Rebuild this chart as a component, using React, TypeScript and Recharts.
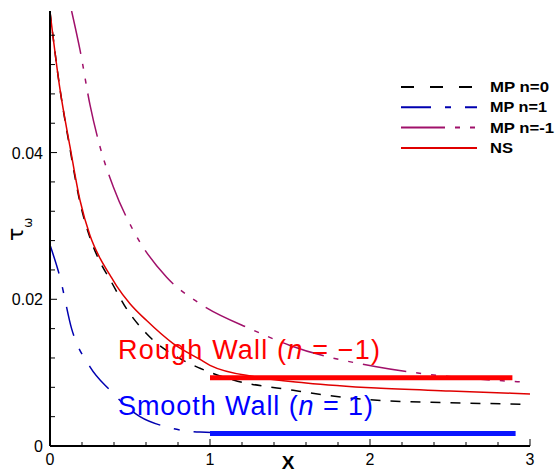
import { Legend, Line, LineChart, ReferenceDot, XAxis, YAxis } from "recharts";

// NS (red solid)
const nsX = [0, 0.06, 0.125, 0.1875, 0.25, 0.3125, 0.375, 0.417, 0.5, 0.604, 0.77, 0.9375, 1.0, 1.29, 1.6, 2.04, 2.5, 3.0];
const nsY = [0.0592, 0.049, 0.0408, 0.0335, 0.0287, 0.0256, 0.0233, 0.0218, 0.0194, 0.0171, 0.01396, 0.0118, 0.011, 0.0094, 0.0086, 0.0079, 0.0075, 0.0071];

// MP n=0 (black dashed)
const mp0X = [0, 0.06, 0.125, 0.1875, 0.25, 0.3125, 0.375, 0.479, 0.604, 0.8125, 0.9375, 1.146, 1.52, 1.89, 2.08, 2.5, 2.96];
const mp0Y = [0.0592, 0.049, 0.0405, 0.0332, 0.0284, 0.0251, 0.0227, 0.0187, 0.0153, 0.0119, 0.0106, 0.009, 0.0076, 0.0065, 0.0062, 0.0059, 0.0057];

// MP n=1 (blue dash-dot)
const mp1X = [0, 0.0625, 0.135, 0.25, 0.375, 0.5625, 0.729, 0.9375, 1.5, 2.0, 2.9];
const mp1Y = [0.0274, 0.023, 0.016, 0.0108, 0.0076, 0.004, 0.0026, 0.0019, 0.0016, 0.0016, 0.0016];

// MP n=-1 (purple dash-dot-dot)
const mpm1X = [0.135, 0.1875, 0.25, 0.3125, 0.396, 0.52, 0.729, 0.9375, 1.27, 1.5, 2.04, 2.35, 2.98];
const mpm1Y = [0.0593, 0.054, 0.0465, 0.0408, 0.0353, 0.0294, 0.023, 0.0194, 0.0158, 0.0137, 0.0108, 0.0098, 0.0087];

// thick wall reference bars
const roughX = [1.0, 2.89];
const roughY = [0.0093, 0.0093];
const smoothX = [1.0, 2.91];
const smoothY = [0.0017, 0.0017];

const xTicks = [0, 0.2, 0.4, 0.6, 0.8, 1, 1.2, 1.4, 1.6, 1.8, 2, 2.2, 2.4, 2.6, 2.8, 3];
const yTicks = [0, 0.004, 0.008, 0.012, 0.016, 0.02, 0.024, 0.028, 0.032, 0.036, 0.04, 0.044, 0.048, 0.052, 0.056];
const xMajor = [0, 1, 2, 3];
const yMajor = [0, 0.02, 0.04];

const zip = (xs: number[], ys: number[]) => xs.map((x, i) => ({ x, y: ys[i] }));

const legendItems = [
  { label: "MP n=0", color: "#000000", dash: "13 16", len: 59 },
  { label: "MP n=1", color: "#0000b0", dash: "30 14 6 14", len: 57 },
  { label: "MP n=-1", color: "#a0106a", dash: "44 10 5 10 5 10", len: 64 },
  { label: "NS", color: "#e00000", dash: "", len: 23 },
];

const isMajor = (v: number, list: number[]) => list.some((m) => Math.abs(m - v) < 1e-9);

function XTick(props: any) {
  const { x, y, payload } = props;
  const major = isMajor(payload.value, xMajor);
  return (
    <g>
      <line x1={x} y1={y} x2={x} y2={y - (major ? 7 : 4)} stroke="#000" strokeWidth={1} />
      {major && (
        <text x={x} y={y + 19} textAnchor="middle" fontSize={16} fontFamily="Liberation Sans, Arial" fill="#000">
          {payload.value}
        </text>
      )}
    </g>
  );
}

function YTick(props: any) {
  const { x, y, payload } = props;
  const major = isMajor(payload.value, yMajor);
  return (
    <g>
      <line x1={x} y1={y} x2={x + (major ? 7 : 5)} y2={y} stroke="#000" strokeWidth={1} />
      {major && (
        <text x={x - 7} y={y + 6} textAnchor="end" fontSize={16} fontFamily="Liberation Sans, Arial" fill="#000">
          {payload.value}
        </text>
      )}
    </g>
  );
}

function TauLabel() {
  return (
    <text
      x={23}
      y={241}
      transform="rotate(-90 23 241)"
      fontSize={22}
      fontFamily="DejaVu Sans"
      fill="#000"
    >
      τ
      <tspan dy={9} fontSize={12}>
        ω
      </tspan>
    </text>
  );
}

function XLabel(props: any) {
  const { viewBox } = props;
  return (
    <text
      x={viewBox.x + viewBox.width / 2 - 2}
      y={viewBox.y + 23}
      textAnchor="middle"
      fontSize={19}
      fontWeight="bold"
      fontFamily="Liberation Sans, Arial"
      fill="#000"
    >
      X
    </text>
  );
}

function WallText(props: any) {
  const { viewBox, text, color, width } = props;
  return (
    <text
      x={viewBox.x}
      y={viewBox.y}
      fontSize={27}
      fontFamily="Liberation Sans, Arial"
      fill={color}
      textLength={width}
      lengthAdjust="spacing"
    >
      {text[0]}
      <tspan fontStyle="italic">n</tspan>
      {text[1]}
    </text>
  );
}

function LegendBox() {
  return (
    <svg width={160} height={90}>
      {legendItems.map((it, i) => {
        const cy = 10 + i * 20.3;
        return (
          <g key={it.label}>
            <line x1={3} x2={79} y1={cy} y2={cy} stroke={it.color} strokeWidth={2} strokeDasharray={it.dash} />
            <text
              x={92}
              y={cy + 5}
              fontSize={14}
              fontWeight="bold"
              fontFamily="Liberation Sans, Arial"
              textLength={it.len}
              lengthAdjust="spacingAndGlyphs"
              fill="#000"
            >
              {it.label}
            </text>
          </g>
        );
      })}
    </svg>
  );
}

export default function App() {
  return (
    <div style={{ position: "absolute", left: 0, top: 0, background: "#fff" }}>
      <LineChart width={557} height={472} margin={{ top: 11, right: 27, bottom: 0, left: 0 }}>
        <XAxis
          type="number"
          dataKey="x"
          domain={[0, 3]}
          ticks={xTicks}
          interval={0}
          tick={<XTick />}
          tickLine={false}
          tickSize={0}
          tickMargin={0}
          height={26}
          axisLine={{ stroke: "#000", strokeWidth: 2 }}
          allowDataOverflow
          label={{ content: (p: any) => <XLabel {...p} /> }}
        />
        <YAxis
          type="number"
          domain={[0, 0.0593]}
          ticks={yTicks}
          interval={0}
          tick={<YTick />}
          tickLine={false}
          tickSize={0}
          tickMargin={0}
          width={50}
          axisLine={{ stroke: "#000", strokeWidth: 2 }}
          allowDataOverflow
          label={{ content: () => <TauLabel /> }}
        />
        <Legend
          layout="vertical"
          align="center"
          verticalAlign="middle"
          wrapperStyle={{ left: 398, top: 77, width: 160 }}
          content={() => <LegendBox />}
        />
        <Line
          data={zip(mpm1X, mpm1Y)}
          dataKey="y"
          type="monotone"
          stroke="#a0106a"
          strokeWidth={1.5}
          strokeDasharray="44 10 5 10 5 10"
          dot={false}
          isAnimationActive={false}
        />
        <Line
          data={zip(mp0X, mp0Y)}
          dataKey="y"
          type="monotone"
          stroke="#000000"
          strokeWidth={1.5}
          strokeDasharray="10 10"
          dot={false}
          isAnimationActive={false}
        />
        <Line
          data={zip(mp1X, mp1Y)}
          dataKey="y"
          type="monotone"
          stroke="#0000b0"
          strokeWidth={1.5}
          strokeDasharray="30 14 6 14"
          dot={false}
          isAnimationActive={false}
        />
        <Line
          data={zip(nsX, nsY)}
          dataKey="y"
          type="monotone"
          stroke="#e00000"
          strokeWidth={1.5}
          dot={false}
          isAnimationActive={false}
        />
        <Line
          data={zip(roughX, roughY)}
          dataKey="y"
          type="linear"
          stroke="#ff0000"
          strokeWidth={5}
          dot={false}
          isAnimationActive={false}
        />
        <Line
          data={zip(smoothX, smoothY)}
          dataKey="y"
          type="linear"
          stroke="#0a14ff"
          strokeWidth={5}
          dot={false}
          isAnimationActive={false}
        />
        <ReferenceDot
          x={0.425}
          y={0.01182}
          r={0}
          stroke="none"
          fill="none"
          label={{ content: (p: any) => <WallText {...p} text={["Rough Wall (", " = −1)"]} color="#ff0000" width={262} /> }}
        />
        <ReferenceDot
          x={0.425}
          y={0.00419}
          r={0}
          stroke="none"
          fill="none"
          label={{ content: (p: any) => <WallText {...p} text={["Smooth Wall (", " = 1)"]} color="#0000ff" width={255} /> }}
        />
      </LineChart>
    </div>
  );
}
